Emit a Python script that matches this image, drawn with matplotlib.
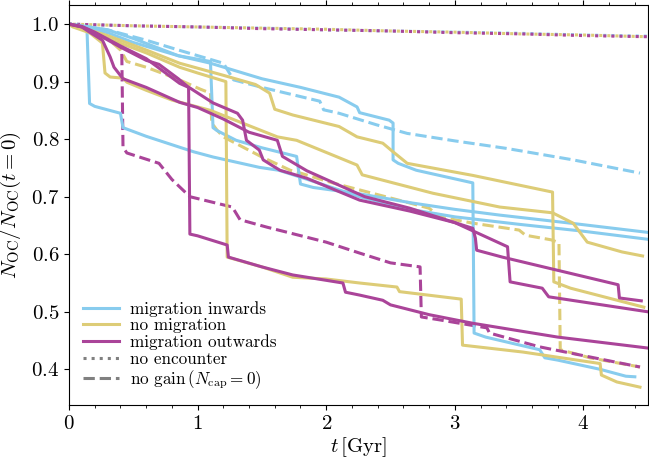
import matplotlib
matplotlib.use("Agg")
import matplotlib.pyplot as plt
from matplotlib.lines import Line2D
from matplotlib.ticker import MultipleLocator

plt.rcParams['font.family'] = 'serif'
plt.rcParams['font.serif'] = ['cmr10']
plt.rcParams['mathtext.fontset'] = 'cm'
plt.rcParams['axes.formatter.use_mathtext'] = True

c_in = '#88CCEE'
c_no = '#DDCC77'
c_out = '#AA4499'

# no encounter (dotted)
t_dot = [0, 0.5, 1.0, 1.5, 2.0, 2.5, 3.0, 3.5, 4.0, 4.5]
n_dot_in = [1.0, 0.997, 0.995, 0.993, 0.990, 0.988, 0.986, 0.984, 0.981, 0.979]
n_dot_no = [1.0, 0.997, 0.995, 0.993, 0.991, 0.988, 0.986, 0.983, 0.981, 0.978]
n_dot_out = [1.0, 0.997, 0.995, 0.992, 0.990, 0.988, 0.985, 0.983, 0.980, 0.978]

# migration inwards
t_in1 = [0, 0.1, 0.3, 0.5, 0.85, 1.1, 1.5, 1.8, 2.1, 2.24, 2.26, 2.49, 2.52, 2.52, 2.56, 2.7, 3.14, 3.15,
         3.24, 3.66, 3.7, 3.8, 4.13, 4.33, 4.4]
n_in1 = [1.0, 0.997, 0.99, 0.975, 0.945, 0.932, 0.905, 0.89, 0.873, 0.856, 0.846, 0.833, 0.828, 0.764, 0.758,
         0.746, 0.724, 0.463, 0.456, 0.434, 0.42, 0.416, 0.40, 0.388, 0.387]
t_in2 = [0, 0.1, 0.3, 0.5, 0.85, 1.1, 1.12, 1.15, 1.3, 1.5, 1.77, 1.8, 1.9, 2.26, 2.67, 3.0, 3.35, 3.9, 4.5]
n_in2 = [1.0, 0.996, 0.985, 0.968, 0.945, 0.935, 0.82, 0.815, 0.798, 0.785, 0.77, 0.722, 0.716, 0.705, 0.689,
         0.678, 0.668, 0.654, 0.638]
t_in3 = [0, 0.1, 0.14, 0.16, 0.2, 0.4, 0.42, 0.6, 0.86, 0.97, 1.12, 1.48, 1.63, 1.8, 2.26, 2.6, 3.0, 3.5, 4.0, 4.5]
n_in3 = [1.0, 0.995, 0.99, 0.862, 0.857, 0.845, 0.82, 0.805, 0.786, 0.778, 0.769, 0.751, 0.746, 0.734, 0.70,
         0.68, 0.665, 0.652, 0.64, 0.626]
t_in_gain = [0, 0.3, 0.6, 0.85, 1.2, 1.22, 1.28, 1.5, 1.95, 1.98, 2.1, 2.39, 2.63, 3.0, 3.4, 3.92, 4.44]
n_in_gain = [1.0, 0.99, 0.972, 0.955, 0.932, 0.925, 0.903, 0.89, 0.866, 0.851, 0.845, 0.825, 0.81, 0.797, 0.784,
             0.764, 0.741]

# no migration
t_no1 = [0, 0.3, 0.6, 0.86, 1.2, 1.45, 1.56, 1.6, 1.74, 2.1, 2.24, 2.44, 2.52, 2.63, 3.14, 3.76, 3.77, 3.9, 4.47]
n_no1 = [1.0, 0.98, 0.955, 0.932, 0.911, 0.895, 0.88, 0.852, 0.842, 0.822, 0.804, 0.793, 0.778, 0.758, 0.737,
         0.708, 0.552, 0.541, 0.508]
t_no2 = [0, 0.03, 0.16, 0.26, 0.28, 0.32, 0.42, 0.45, 0.6, 0.8, 1.1, 1.62, 1.77, 2.24, 2.28, 2.83, 3.35, 3.76,
         3.92, 4.03, 4.3, 4.46]
n_no2 = [1.0, 0.995, 0.985, 0.967, 0.915, 0.908, 0.906, 0.899, 0.885, 0.868, 0.85, 0.804, 0.798, 0.755, 0.738,
         0.706, 0.682, 0.672, 0.654, 0.621, 0.604, 0.597]
t_no3 = [0, 0.1, 0.3, 0.6, 0.86, 1.0, 1.22, 1.23, 1.5, 1.74, 2.0, 2.26, 2.55, 2.57, 3.05, 3.06, 3.53, 4.13, 4.14,
         4.26, 4.44]
n_no3 = [1.0, 0.995, 0.975, 0.95, 0.925, 0.915, 0.90, 0.595, 0.578, 0.56, 0.557, 0.55, 0.543, 0.535, 0.522, 0.442,
         0.43, 0.41, 0.39, 0.378, 0.369]
t_no_gain = [0, 0.1, 0.25, 0.4, 0.45, 0.6, 0.84, 1.02, 1.1, 1.11, 1.15, 1.2, 1.5, 1.72, 1.8, 2.05, 2.65, 2.8,
             2.88, 3.14, 3.35, 3.5, 3.55, 3.75, 3.81, 3.82, 3.92, 4.05, 4.44]
n_no_gain = [1.0, 0.995, 0.985, 0.955, 0.935, 0.925, 0.905, 0.887, 0.88, 0.828, 0.816, 0.804, 0.769, 0.746,
             0.741, 0.724, 0.689, 0.68, 0.665, 0.654, 0.647, 0.642, 0.633, 0.625, 0.62, 0.434, 0.428, 0.42, 0.404]

# migration outwards
t_out1 = [0, 0.1, 0.2, 0.4, 0.6, 0.7, 0.85, 0.93, 0.94, 1.0, 1.23, 1.24, 1.5, 1.74, 2.13, 2.15, 2.26, 2.44,
          2.5, 2.8, 3.14, 3.8, 4.5]
n_out1 = [1.0, 0.995, 0.985, 0.96, 0.937, 0.93, 0.905, 0.89, 0.635, 0.632, 0.616, 0.595, 0.578, 0.564, 0.55,
          0.534, 0.529, 0.52, 0.512, 0.495, 0.48, 0.456, 0.437]
t_out2 = [0, 0.1, 0.16, 0.26, 0.32, 0.35, 0.42, 0.6, 0.86, 1.0, 1.2, 1.4, 1.62, 1.66, 1.85, 2.3, 2.65, 3.0, 3.14,
          3.16, 3.17, 3.37, 4.27, 4.28, 4.45]
n_out2 = [1.0, 0.995, 0.986, 0.972, 0.943, 0.925, 0.905, 0.89, 0.864, 0.855, 0.835, 0.812, 0.798, 0.77, 0.745,
          0.70, 0.68, 0.655, 0.645, 0.628, 0.607, 0.595, 0.547, 0.524, 0.519]
t_out3 = [0, 0.1, 0.2, 0.4, 0.6, 0.86, 0.94, 1.12, 1.31, 1.35, 1.38, 1.48, 1.51, 1.64, 1.85, 2.26, 2.65, 3.0,
          3.41, 3.43, 3.68, 3.73, 4.5]
n_out3 = [1.0, 0.996, 0.986, 0.962, 0.94, 0.897, 0.889, 0.863, 0.845, 0.833, 0.798, 0.781, 0.764, 0.746, 0.732,
          0.694, 0.675, 0.655, 0.613, 0.552, 0.541, 0.526, 0.50]
t_out_gain = [0, 0.1, 0.3, 0.41, 0.42, 0.45, 0.7, 0.8, 0.94, 1.27, 1.33, 1.54, 2.0, 2.26, 2.5, 2.73, 2.74, 2.88,
              3.25, 3.27, 3.66, 4.44]
n_out_gain = [1.0, 0.995, 0.975, 0.96, 0.786, 0.776, 0.758, 0.73, 0.70, 0.682, 0.66, 0.647, 0.621, 0.602, 0.585,
              0.578, 0.491, 0.486, 0.472, 0.463, 0.439, 0.404]

fig = plt.figure(figsize=(6.49, 4.63), dpi=100)
ax = fig.add_axes([0.1063, 0.1253, 0.8917, 0.8637])

lw = 2.2
# dotted runs lie on top of each other, shift the phase so both colours show
ax.plot(t_dot, n_dot_in, color=c_in, lw=lw, ls=':')
ax.plot(t_dot, n_dot_out, color=c_out, lw=lw, ls=(0, (1, 1.65)))
ax.plot(t_dot, n_dot_no, color=c_no, lw=lw, ls=(1.32, (1, 1.65)))

ax.plot(t_in_gain, n_in_gain, color=c_in, lw=lw, ls='--')
ax.plot(t_no_gain, n_no_gain, color=c_no, lw=lw, ls='--')
ax.plot(t_out_gain, n_out_gain, color=c_out, lw=lw, ls='--')

for t, n in [(t_in1, n_in1), (t_in2, n_in2), (t_in3, n_in3)]:
    ax.plot(t, n, color=c_in, lw=lw)
for t, n in [(t_no1, n_no1), (t_no2, n_no2), (t_no3, n_no3)]:
    ax.plot(t, n, color=c_no, lw=lw)
for t, n in [(t_out1, n_out1), (t_out2, n_out2), (t_out3, n_out3)]:
    ax.plot(t, n, color=c_out, lw=lw)

ax.set_xlim(0, 4.5)
ax.set_ylim(0.338, 1.033)
ax.xaxis.set_major_locator(MultipleLocator(1))
ax.xaxis.set_minor_locator(MultipleLocator(0.2))
ax.yaxis.set_major_locator(MultipleLocator(0.1))
ax.tick_params(axis='x', which='both', top=True)
ax.tick_params(labelsize=15)

ax.set_xlabel(r'$t\,[\mathrm{Gyr}]$', fontsize=15, labelpad=2)
ax.set_ylabel(r'$N_\mathrm{OC}/N_\mathrm{OC}(t=0)$', fontsize=15, labelpad=6)

handles = [
    Line2D([], [], color=c_in, lw=lw),
    Line2D([], [], color=c_no, lw=lw),
    Line2D([], [], color=c_out, lw=lw),
    Line2D([], [], color='grey', lw=lw, ls=':'),
    Line2D([], [], color='grey', lw=lw, ls='--'),
]
labels = ['migration inwards', 'no migration', 'migration outwards', 'no encounter',
          r'no gain$\,(N_\mathrm{cap}=0)$']
ax.legend(handles, labels, loc='lower left', frameon=False, fontsize=12.3,
          handlelength=2.1, handletextpad=0.65, labelspacing=0.08, borderaxespad=0.4)

fig.savefig('out.png', dpi=100)
